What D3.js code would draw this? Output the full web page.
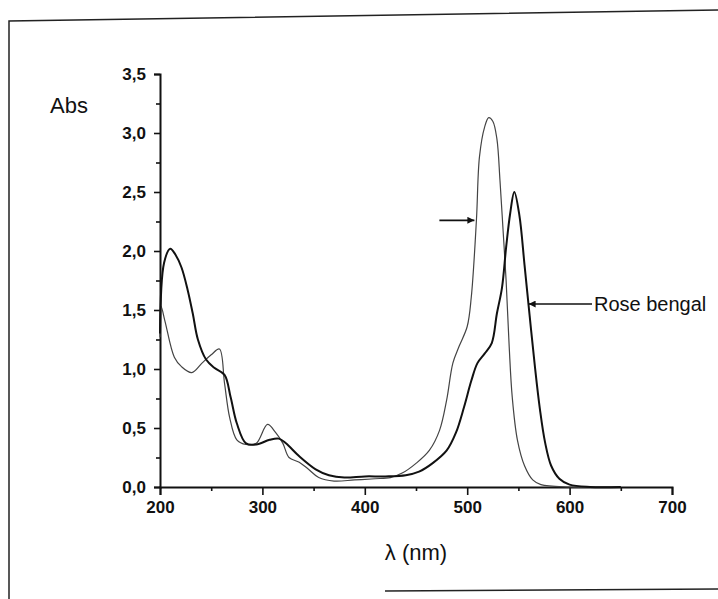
<!DOCTYPE html>
<html>
<head>
<meta charset="utf-8">
<script src="https://cdn.jsdelivr.net/npm/d3@7/dist/d3.min.js"></script>
<style>
  body { margin: 0; background: #fff; }
  svg { display: block; }
  text { font-family: "Liberation Sans", Arial, sans-serif; fill: #111; }
</style>
</head>
<body>
<svg id="chart" width="718" height="599"></svg>
<script>
// Rose bengal spectrum (thick curve)
const rbWavelength = [200, 204, 210, 215, 221, 227, 232, 237, 245, 253, 263, 269, 275, 284, 294, 307, 316, 323, 336, 352, 365, 380, 400, 420, 440, 453, 466, 480, 489, 497, 504, 510, 517, 524, 529, 534, 538, 542, 546, 551, 556, 561, 566, 571, 576, 582, 590, 600, 620, 650];
const rbAbs = [1.30, 1.90, 2.02, 1.97, 1.86, 1.67, 1.47, 1.25, 1.08, 1.01, 0.95, 0.76, 0.54, 0.37, 0.36, 0.40, 0.41, 0.37, 0.26, 0.15, 0.10, 0.08, 0.09, 0.09, 0.10, 0.13, 0.20, 0.31, 0.46, 0.68, 0.90, 1.05, 1.13, 1.22, 1.47, 1.69, 2.03, 2.32, 2.50, 2.30, 1.88, 1.45, 1.03, 0.66, 0.38, 0.18, 0.07, 0.02, 0.0, 0.0];

// second spectrum (thin curve, faded label)
const otherWavelength = [200, 201, 205, 214, 221, 231, 241, 250, 258, 263, 268, 275, 284, 294, 305, 313, 320, 326, 336, 345, 355, 370, 390, 410, 425, 437, 450, 463, 473, 480, 486, 492, 500, 504, 509, 512, 517, 521, 525, 529, 532, 535, 538, 541, 544, 549, 556, 564, 572, 600, 650];
const otherAbs = [1.27, 1.53, 1.40, 1.10, 1.02, 0.97, 1.05, 1.12, 1.17, 0.88, 0.59, 0.40, 0.36, 0.37, 0.53, 0.46, 0.37, 0.25, 0.21, 0.15, 0.08, 0.05, 0.06, 0.07, 0.08, 0.12, 0.20, 0.31, 0.48, 0.74, 1.05, 1.19, 1.36, 1.61, 2.26, 2.80, 3.05, 3.13, 3.10, 2.95, 2.60, 2.18, 1.75, 1.19, 0.76, 0.40, 0.18, 0.06, 0.02, 0.0, 0.0];

const xTicks = [200, 300, 400, 500, 600, 700];
const yTicks = [0, 0.5, 1.0, 1.5, 2.0, 2.5, 3.0, 3.5];

const svg = d3.select("#chart");

// scanned frame around the figure
svg.append("path")
  .attr("d", "M9,599 L9,21 L718,10")
  .attr("fill", "none").attr("stroke", "#222").attr("stroke-width", 1.5);
svg.append("path")
  .attr("d", "M385,591 L718,589")
  .attr("fill", "none").attr("stroke", "#222").attr("stroke-width", 1.5);

const x = d3.scaleLinear().domain([200, 700]).range([160, 672]);
const y = d3.scaleLinear().domain([0, 3.5]).range([487, 74]);

const fmt = d => d3.format(".1f")(d).replace(".", ",");

// minor ticks
const xAxisMinor = d3.axisBottom(x).tickValues(d3.range(250, 700, 100)).tickSize(4).tickFormat("");
const yAxisMinor = d3.axisLeft(y).tickValues(d3.range(0.25, 3.5, 0.5)).tickSize(4).tickFormat("");

const gx = svg.append("g").attr("transform", `translate(0,${y(0)})`);
gx.call(d3.axisBottom(x).tickValues(xTicks).tickSize(8).tickPadding(6).tickFormat(d3.format("d")));
gx.append("g").call(xAxisMinor);

const gy = svg.append("g").attr("transform", `translate(${x(200)},0)`);
gy.call(d3.axisLeft(y).tickValues(yTicks).tickSize(6).tickPadding(8).tickFormat(fmt));
gy.append("g").call(yAxisMinor);

svg.selectAll(".domain").attr("stroke", "#111").attr("stroke-width", 2);
svg.selectAll(".tick line").attr("stroke", "#111").attr("stroke-width", 1.6);
svg.selectAll(".tick text")
  .style("font-size", "17px").style("font-weight", "bold").attr("fill", "#111");
gx.selectAll(".domain").filter((d, i, n) => n[i].parentNode !== gx.node()).remove();
gy.selectAll(".domain").filter((d, i, n) => n[i].parentNode !== gy.node()).remove();

// axis titles
svg.append("text").attr("x", 50).attr("y", 113)
  .style("font-size", "22px").text("Abs");
svg.append("text").attr("x", (x(200) + x(700)) / 2).attr("y", 560)
  .attr("text-anchor", "middle").style("font-size", "22px").text("λ (nm)");

// curves
const line = d3.line()
  .x(d => x(d[0]))
  .y(d => y(d[1]))
  .curve(d3.curveCatmullRom.alpha(0.5));

svg.append("path")
  .datum(d3.zip(otherWavelength, otherAbs))
  .attr("d", line)
  .attr("fill", "none").attr("stroke", "#444").attr("stroke-width", 1.2);

svg.append("path")
  .datum(d3.zip(rbWavelength, rbAbs))
  .attr("d", line)
  .attr("fill", "none").attr("stroke", "#111").attr("stroke-width", 2);

// arrows
svg.append("defs").append("marker")
  .attr("id", "head").attr("viewBox", "0 0 10 10")
  .attr("refX", 10).attr("refY", 5)
  .attr("markerWidth", 9).attr("markerHeight", 7)
  .attr("markerUnits", "userSpaceOnUse")
  .attr("orient", "auto")
  .append("path").attr("d", "M0,0 L10,5 L0,10 Z").attr("fill", "#111");

svg.append("line")
  .attr("x1", x(508) - 36).attr("y1", y(2.26))
  .attr("x2", x(508) - 1).attr("y2", y(2.26))
  .attr("stroke", "#111").attr("stroke-width", 1.8)
  .attr("marker-end", "url(#head)");

svg.append("line")
  .attr("x1", 592).attr("y1", y(1.55))
  .attr("x2", x(559) + 1).attr("y2", y(1.55))
  .attr("stroke", "#111").attr("stroke-width", 1.5)
  .attr("marker-end", "url(#head)");

svg.append("text").attr("x", 594).attr("y", y(1.55) + 7)
  .style("font-size", "20px").text("Rose bengal");
</script>
</body>
</html>
